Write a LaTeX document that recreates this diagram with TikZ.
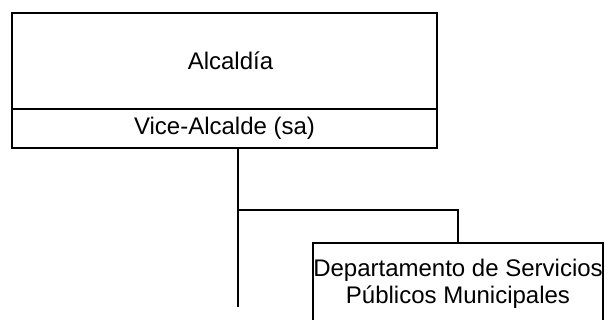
\documentclass[tikz,border=0pt]{standalone}
\usepackage{fontspec}
\setmainfont{Liberation Sans}
\usetikzlibrary{positioning}
\begin{document}
\begin{tikzpicture}[x=1pt,y=1pt,
  unit/.style={draw,line width=1.5pt,inner sep=0pt,outer sep=0pt,
    minimum width=425pt,font=\fontsize{24}{27.5}\selectfont},
  dept/.style={draw,line width=1.5pt,inner sep=0pt,outer sep=0pt,
    minimum width=290pt,minimum height=82pt,align=center,
    font=\fontsize{24}{27.5}\selectfont},
  link/.style={line width=1.5pt}]
  \useasboundingbox (0,0) rectangle (607,320);
  \node[unit,minimum height=96pt] (alcaldia) at (224.5,259) {\hspace*{12pt}Alcaldía};
  \node[unit,minimum height=39pt,below=0pt of alcaldia] (vice) {Vice-Alcalde (sa)};
  \node[dept] (servicios) at (458,36) {Departamento de Servicios\\Públicos Municipales};
  \coordinate (trunk) at (238,13);
  \coordinate (fork) at (238,110);
  \draw[link] (vice.south -| trunk) -- (trunk);
  \draw[link] (fork) -| (servicios.north);
\end{tikzpicture}
\end{document}
